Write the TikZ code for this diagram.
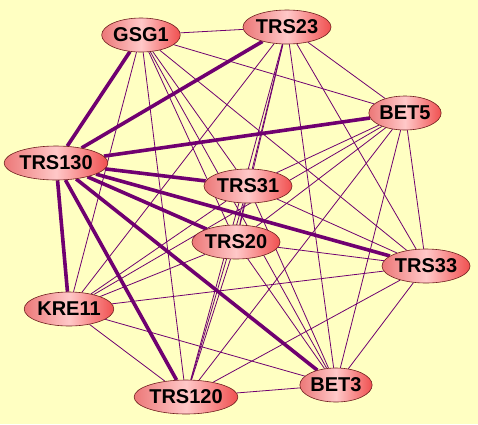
\documentclass[tikz,border=0pt]{standalone}
\usepackage{fontspec}
\setmainfont{Liberation Sans}
\usetikzlibrary{shapes.geometric}
\pgfdeclarelayer{bg}
\pgfdeclarelayer{edges}
\pgfsetlayers{bg,edges,main}
\definecolor{bgyellow}{RGB}{255,255,194}
\definecolor{edgepurple}{RGB}{112,0,112}
\definecolor{nleft}{RGB}{236,120,120}
\definecolor{nmid}{RGB}{255,200,200}
\definecolor{nright}{RGB}{240,80,80}
\definecolor{nborder}{RGB}{110,30,30}
\tikzset{
  prot/.style={ellipse, draw=nborder, line width=0.6pt, inner sep=0pt,
    minimum height=34pt, left color=nleft, right color=nright, middle color=nmid,
    font=\fontsize{20}{20}\selectfont\bfseries},
  thin/.style={draw=edgepurple, line width=0.8pt},
  thick/.style={draw=edgepurple, line width=3.6pt},
}
\begin{document}
\begin{tikzpicture}[x=1pt,y=-1pt]
\begin{pgfonlayer}{bg}
\fill[bgyellow] (0,0) rectangle (478,424);
\end{pgfonlayer}
\useasboundingbox (0,0) rectangle (478,424);
\node[prot, minimum width=72pt] (GSG1) at (141,35) {GSG1};
\node[prot, minimum width=82pt] (TRS23) at (287,27) {TRS23};
\node[prot, minimum width=69pt] (BET5) at (405,113) {BET5};
\node[prot, minimum width=92pt] (TRS130) at (56,163) {TRS130};
\node[prot, minimum width=80pt] (TRS31) at (248,186) {TRS31};
\node[prot, minimum width=79pt] (TRS20) at (236,242) {TRS20};
\node[prot, minimum width=81pt] (TRS33) at (426,266) {TRS33};
\node[prot, minimum width=81pt] (KRE11) at (69,309) {KRE11};
\node[prot, minimum width=92pt] (TRS120) at (186,397) {TRS120};
\node[prot, minimum width=69pt] (BET3) at (336,385) {BET3};
\begin{pgfonlayer}{edges}
\foreach \a/\b in {GSG1/TRS23,GSG1/BET5,GSG1/TRS31,GSG1/TRS20,GSG1/TRS33,GSG1/KRE11,GSG1/TRS120,GSG1/BET3,
  TRS23/BET5,TRS23/TRS31,TRS23/TRS20,TRS23/TRS33,TRS23/KRE11,TRS23/TRS120,TRS23/BET3,
  BET5/TRS31,BET5/TRS20,BET5/TRS33,BET5/KRE11,BET5/TRS120,BET5/BET3,
  TRS31/TRS20,TRS31/TRS33,TRS31/KRE11,TRS31/TRS120,TRS31/BET3,
  TRS20/TRS33,TRS20/KRE11,TRS20/TRS120,TRS20/BET3,
  TRS33/KRE11,TRS33/TRS120,TRS33/BET3,
  KRE11/TRS120,KRE11/BET3,
  TRS120/BET3}
  \draw[thin] (\a) -- (\b);
\foreach \b in {GSG1,TRS23,BET5,TRS31,TRS20,TRS33,KRE11,TRS120,BET3}
  \draw[thick] (TRS130) -- (\b);
\end{pgfonlayer}
\end{tikzpicture}
\end{document}
